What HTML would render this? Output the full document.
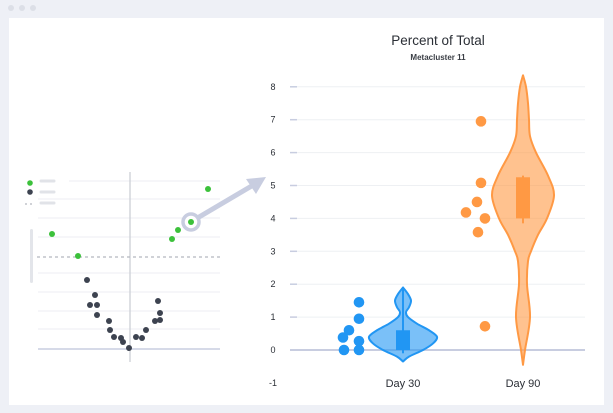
<!DOCTYPE html>
<html><head><meta charset="utf-8"><style>
html,body{margin:0;padding:0;background:#eef0f6;width:613px;height:413px;overflow:hidden;font-family:"Liberation Sans",sans-serif}
</style></head><body>
<svg width="613" height="413" xmlns="http://www.w3.org/2000/svg">
<rect x="0" y="0" width="613" height="413" fill="#eef0f6"/>
<circle cx="11" cy="8" r="3" fill="#dcdfe7"/>
<circle cx="22" cy="8" r="3" fill="#dcdfe7"/>
<circle cx="33" cy="8" r="3" fill="#dcdfe7"/>
<rect x="9" y="18" width="595" height="387" fill="#ffffff"/>
<g id="left"></g>
<g id="chart"></g>
</svg>
<script>
const NS='http://www.w3.org/2000/svg';
function mk(p,t,a){const e=document.createElementNS(NS,t);for(const k in a)e.setAttribute(k,a[k]);p.appendChild(e);return e;}
// ---------- left thumbnail ----------
const L=document.getElementById('left');
const gridYs=[199,218,237,273,292,311,329];
gridYs.forEach(y=>{const e=mk(L,'line',{x1:38,x2:220,y1:y,y2:y,stroke:'#eceef3','stroke-width':1});

});
[[69,181]].forEach(([x,y])=>{const e=mk(L,'line',{x1:x,x2:220,y1:y,y2:y,stroke:'#eceef3'});

});
const ax=mk(L,'line',{x1:130,x2:130,y1:172,y2:362,stroke:'#c9ccd3','stroke-width':1.2});


const bl=mk(L,'line',{x1:38,x2:220,y1:349,y2:349,stroke:'#c8cde0','stroke-width':1.5});


const dl=mk(L,'line',{x1:37,x2:220,y1:257,y2:257,stroke:'#b5b8bf','stroke-width':1.3,'stroke-dasharray':'3,3'});


const sb=mk(L,'rect',{x:30,y:229,width:3,height:54,fill:'#e3e5ea',rx:1.5});


[[183,'#3cc13b'],[192,'#3d4350']].forEach(([y,c])=>{const d=mk(L,'circle',{cx:30,cy:y,r:2.8,fill:c});

});
const ld=mk(L,'line',{x1:25,x2:34,y1:204,y2:204,stroke:'#b5b8bf','stroke-width':1.3,'stroke-dasharray':'2,3'});


[181,192,203].forEach(y=>{const e=mk(L,'line',{x1:41,x2:54,y1:y,y2:y,stroke:'#e1e3e8','stroke-width':3,'stroke-linecap':'round'});

});
const green=[[52,234],[78,256],[172,239],[178,230],[191,222],[208,189]];
const dark=[[87,280],[95,295],[90,305],[97,305],[97,315],[109,321],[110,330],[114,337],[121,338],[123,342],[129,348],[136,337],[142,338],[146,330],[155,321],[160,320],[158,301],[160,313]];
const arr=mk(L,'line',{x1:194,y1:220,x2:255,y2:184,stroke:'#c8cde0','stroke-width':5});


const ah=mk(L,'polygon',{points:'266,177 246,179 256,194',fill:'#c8cde0'});


const ring=mk(L,'circle',{cx:191,cy:222,r:8,fill:'#fff',stroke:'#c8cde0','stroke-width':3.5});


green.forEach(([x,y])=>{const c=mk(L,'circle',{cx:x,cy:y,r:3,fill:'#3cc13b'});

});
dark.forEach(([x,y])=>{const c=mk(L,'circle',{cx:x,cy:y,r:3,fill:'#3d4350'});

});

// ---------- violin chart ----------
const yTicks=[8,7,6,5,4,3,2,1,0,-1];
const categories=['Day 30','Day 90'];
const day30Points=[0,0,0.38,0.6,0.27,0.95,1.45];
const day30Jitter=[-59,-44,-60,-54,-44,-44,-44];
const day90Points=[6.95,5.08,4.5,4.18,4.0,3.58,0.72];
const day90Jitter=[-42,-42,-46,-57,-38,-45,-38];
const day30ViolinY=[-0.35,-0.2,0,0.2,0.4,0.6,0.8,1.0,1.15,1.3,1.5,1.7,1.9];
const day30Density=[0,6,20,30,34,26,14,5,3,6,8,5,0];
const day90ViolinY=[-0.45,0,1,2,2.7,3,3.5,4,4.7,5.3,6,6.5,7,7.5,8,8.35];
const day90Density=[0,2,7,4,5,8,15,24,31,25,13,7,6,5,3,0];
const day30Box=[0,0.6,-0.1,1.85];
const day90Box=[4.0,5.25,3.85,5.3];
const C=document.getElementById('chart');
const y=v=>350-v*32.9;
const xc=[403,523];
const t1=mk(C,'text',{x:438,y:45,'text-anchor':'middle','font-size':13.5,fill:'#2b2f36'});t1.textContent='Percent of Total';


const t2=mk(C,'text',{x:438,y:60,'text-anchor':'middle','font-size':8,'font-weight':'bold',fill:'#3a3e45'});t2.textContent='Metacluster 11';


yTicks.forEach(v=>{
 if(v>=0&&v!==0){const g=mk(C,'line',{x1:296,x2:585,y1:y(v),y2:y(v),stroke:'#eef0f3','stroke-width':1});
 
 
 const tk=mk(C,'line',{x1:290,x2:297,y1:y(v),y2:y(v),stroke:'#c8cde0','stroke-width':1.5});
 
 }
 const l=mk(C,'text',{x:273,y:y(v)+3,'font-size':9,fill:'#2b2f36','text-anchor':'middle'});l.textContent=v;
 
 
});
const zl=mk(C,'line',{x1:290,x2:585,y1:y(0),y2:y(0),stroke:'#c8cde0','stroke-width':2});


categories.forEach((c,i)=>{const l=mk(C,'text',{x:xc[i],y:387,'text-anchor':'middle','font-size':11,fill:'#2b2f36'});l.textContent=c;

});
function smooth(pts){let d='M'+pts[0][0]+','+pts[0][1];
 for(let i=0;i<pts.length-1;i++){const p0=pts[Math.max(0,i-1)],p1=pts[i],p2=pts[i+1],p3=pts[Math.min(pts.length-1,i+2)];
 d+=` C${p1[0]+(p2[0]-p0[0])/6},${p1[1]+(p2[1]-p0[1])/6} ${p2[0]-(p3[0]-p1[0])/6},${p2[1]-(p3[1]-p1[1])/6} ${p2[0]},${p2[1]}`;}
 return d;}
function violin(cx,vy,dens,fill,stroke,name){
 const r=vy.map((v,i)=>[cx+dens[i],y(v)]);
 const l=vy.map((v,i)=>[cx-dens[i],y(v)]).reverse();
 const d=smooth(r)+' '+smooth(l).replace('M','L')+'Z';
 const p=mk(C,'path',{d:d,fill:fill,stroke:stroke,'stroke-width':2,'stroke-linejoin':'round'});
 
 
}
function box(cx,b,col,name){
 const w=mk(C,'line',{x1:cx,x2:cx,y1:y(b[2]),y2:y(b[3]),stroke:col,'stroke-width':2});
 
 
 const r=mk(C,'rect',{x:cx-7,y:y(b[1]),width:14,height:y(b[0])-y(b[1]),fill:col});
 
 
}
violin(xc[0],day30ViolinY,day30Density,'rgba(33,150,243,0.6)','#2196f3','violin-day30');
box(xc[0],day30Box,'#2196f3','day30');
violin(xc[1],day90ViolinY,day90Density,'rgba(255,153,68,0.6)','#ff9944','violin-day90');
box(xc[1],day90Box,'#ff9944','day90');
day30Points.forEach((v,i)=>{const c=mk(C,'circle',{cx:xc[0]+day30Jitter[i],cy:y(v),r:5.3,fill:'#2196f3'});

});
day90Points.forEach((v,i)=>{const c=mk(C,'circle',{cx:xc[1]+day90Jitter[i],cy:y(v),r:5.3,fill:'#ff9944'});

});
</script>
</body></html>
